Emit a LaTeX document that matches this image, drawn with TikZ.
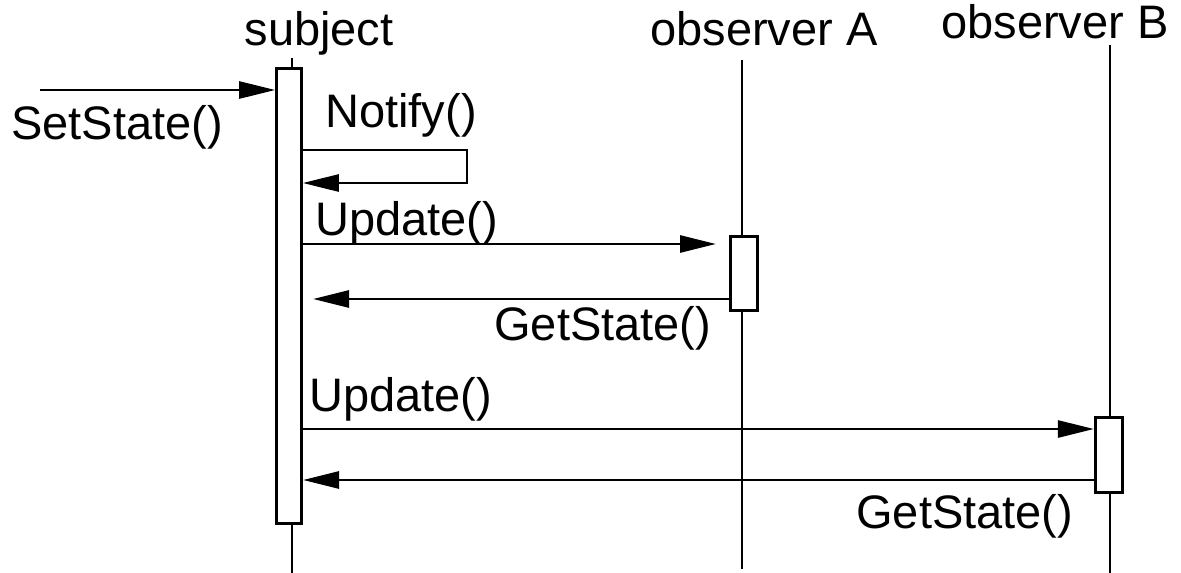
\documentclass[tikz,border=0pt]{standalone}
\usepackage{fontspec}
\setmainfont{Liberation Sans}
\usetikzlibrary{arrows.meta}
\begin{document}
\begin{tikzpicture}[x=1pt,y=-1pt,
  line width=2.7pt,
  lbl/.style={inner sep=0pt,anchor=base west,font=\fontsize{47}{56}\selectfont},
  head/.style={inner sep=0pt,anchor=base,font=\fontsize{47}{56}\selectfont},
  actbox/.style={draw,fill=white,inner sep=0pt,minimum width=27.5pt},
  msg/.style={-{Triangle[length=36pt,width=17pt]}},
  life/.style={line width=2.7pt}]
\useasboundingbox (0,0) rectangle (1181,573);
% headers
\node[head] (hs) at (319,45) {subject};
\node[head] (ha) at (764,45) {observer A};
\node[head] (hb) at (1055,38) {observer B};
% lifeline ends
\coordinate (stop) at (292,58);
\coordinate (sbot) at (292,573);
\coordinate (atop) at (742,60);
\coordinate (abot) at (742,569);
\coordinate (btop) at (1110,45);
\coordinate (bbot) at (1110,573);
\draw[life] (atop) -- (abot);
\draw[life] (btop) -- (bbot);
\draw[life] (stop) -- (sbot);
% activation boxes
\node[actbox,minimum width=25pt,minimum height=455.5pt] (sbox) at (289,296) {};
\node[actbox,minimum height=74.5pt] (abox) at (744,273.5) {};
\node[actbox,minimum height=75.5pt] (bbox) at (1109,455) {};
% message levels
\coordinate (ySet) at (0,90);
\coordinate (yN1) at (0,150);
\coordinate (yN2) at (0,183);
\coordinate (yU1) at (0,244);
\coordinate (yG1) at (0,299);
\coordinate (yU2) at (0,429);
\coordinate (yG2) at (0,480);
\coordinate (setsrc) at (40,90);
\coordinate (nc1) at (467,150);
\coordinate (nc2) at (467,183);
\coordinate (u1tip) at (716,244);
\coordinate (g1tip) at (313,299);
\coordinate (g2tip) at (303,480);
% messages
\draw[msg] (setsrc) -- (sbox.west |- ySet);
\draw[msg] (sbox.east |- yN1) -- (nc1) -- (nc2) -- (sbox.east |- yN2);
\draw[msg] (sbox.east |- yU1) -- (u1tip);
\draw[msg] (abox.west |- yG1) -- (g1tip);
\draw[msg] (sbox.east |- yU2) -- (bbox.west |- yU2);
\draw[msg] (bbox.west |- yG2) -- (g2tip);
% labels
\node[lbl] (lset) at (10,139) {SetState()};
\node[lbl] (lnot) at (324,127) {Notify()};
\node[lbl] (lu1) at (314,235) {Update()};
\node[lbl] (lg1) at (493,340) {GetState()};
\node[lbl] (lu2) at (308,411) {Update()};
\node[lbl] (lg2) at (855,528) {GetState()};
\end{tikzpicture}
\end{document}
